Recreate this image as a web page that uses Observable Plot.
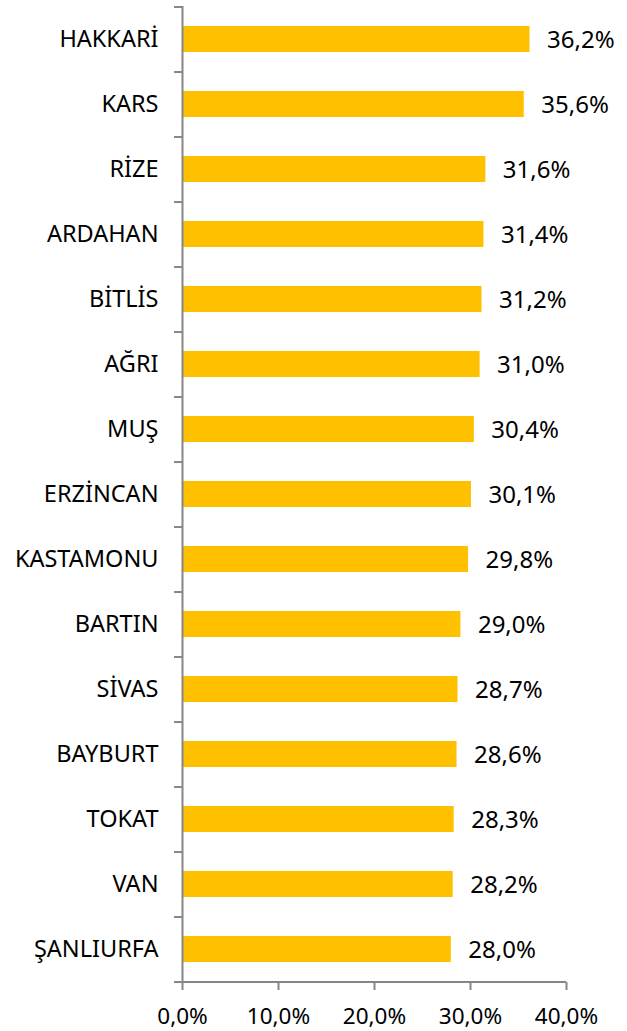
<!DOCTYPE html>
<html><head><meta charset="utf-8">
<script src="https://cdn.jsdelivr.net/npm/d3@7"></script>
<script src="https://cdn.jsdelivr.net/npm/@observablehq/plot@0.6"></script>
<style>body{margin:0;background:#fff;} svg{display:block;}</style>
</head><body><div id="chart"></div>
<script>
const provinces = ["HAKKARİ","KARS","RİZE","ARDAHAN","BİTLİS","AĞRI","MUŞ","ERZİNCAN","KASTAMONU","BARTIN","SİVAS","BAYBURT","TOKAT","VAN","ŞANLIURFA"];
const values = [36.2,35.6,31.6,31.4,31.2,31.0,30.4,30.1,29.8,29.0,28.7,28.6,28.3,28.2,28.0];
const xTicks = [0,10,20,30,40];

const data = provinces.map((p,i)=>({p, v: values[i]}));
const fmt = v => d3.format(".1f")(v).replace(".", ",") + "%";
const gray = "#868686";
const font = "Noto Sans, sans-serif";
const fs = 22.5;
const step = (982-6)/provinces.length;

const chart = Plot.plot({
  width: 627, height: 1031,
  marginTop: 6, marginBottom: 49, marginLeft: 182, marginRight: 61,
  style: {fontFamily: font, fontSize: fs + "px", color: "#000", background: "#fff"},
  x: {domain: [0,40], ticks: xTicks, label: null},
  y: {domain: provinces, paddingInner: 0.6, paddingOuter: 0.3, label: null},
  marks: [
    Plot.barX(data, {x: "v", y: "p", fill: "#FFC000"}),
    Plot.text(data, {x: "v", y: "p", text: d => fmt(d.v), textAnchor: "start", dx: 17, dy: 1, fill: "#000", fontSize: 24}),
    Plot.axisY({tickSize: 0, tickPadding: 24, fontSize: 23.5, fill: "#000"}),
    Plot.axisY({ticks: provinces, text: null, tickSize: 8, stroke: gray, strokeWidth: 2, strokeOpacity: 1, dy: step/2}),
    Plot.axisY({ticks: [provinces[0]], text: null, tickSize: 8, stroke: gray, strokeWidth: 2, strokeOpacity: 1, dy: -step/2}),
    Plot.ruleX([0], {stroke: gray, strokeWidth: 2}),
    Plot.ruleY([0], {x1: 0, x2: 40, y: () => provinces[provinces.length-1], dy: step/2, stroke: gray, strokeWidth: 2}),
    Plot.axisX({ticks: xTicks, tickSize: 8, tickPadding: 18, stroke: gray, strokeWidth: 2, strokeOpacity: 1, fill: "#000", fontSize: fs, tickFormat: d => d3.format(".1f")(d).replace(".", ",") + "%"})
  ]
});
document.getElementById("chart").appendChild(chart);
</script></body></html>
